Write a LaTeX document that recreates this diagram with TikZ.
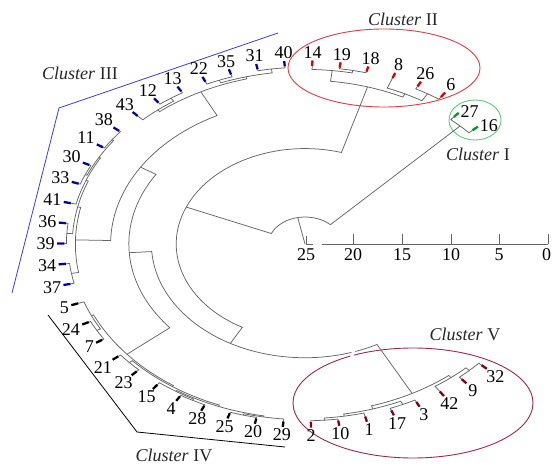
\documentclass[tikz,border=0pt]{standalone}
\usepackage{fontspec}
\setmainfont{Liberation Serif}
\definecolor{cI}{RGB}{0,150,40}
\definecolor{cII}{RGB}{220,0,0}
\definecolor{cIII}{RGB}{0,0,170}
\definecolor{cIV}{RGB}{0,0,0}
\definecolor{cV}{RGB}{130,0,20}
\definecolor{eI}{RGB}{100,200,130}
\definecolor{eII}{RGB}{225,60,70}
\definecolor{eV}{RGB}{160,40,70}
\definecolor{lIII}{RGB}{60,60,220}
\definecolor{dg}{RGB}{100,100,100}
\newcommand{\Ang}[1]{42.5+6.54*(#1)}
% internal node: radius, idx1, r1, idx2, r2
\newcommand{\Nd}[5]{\draw[den] ({\Ang{#2}}:#3) -- ({\Ang{#2}}:#1) arc[start angle={\Ang{#2}}, end angle={\Ang{#4}}, radius=#1] -- ({\Ang{#4}}:#5);}
% leaf: idx, label, colour, radius
\newcommand{\Lf}[4]{%
  \pgfmathsetmacro{\lfa}{42.5+6.54*(#1)}%
  \pgfmathsetmacro{\lfb}{mod(\lfa+180,360)}%
  \pgfmathsetmacro{\lfr}{#4+0.03}%
  \pgfmathsetmacro{\lft}{#4+0.036}%
  \draw[line width=2.3pt, draw=#3] (\lfa:#4) -- (\lfa:\lfr);
  \node[lab, anchor=\lfb] (n#2) at (\lfa:\lft) {#2};}
% leaf with given label anchor
\newcommand{\LfA}[5]{%
  \pgfmathsetmacro{\lfa}{42.5+6.54*(#1)}%
  \pgfmathsetmacro{\lfr}{#4+0.03}%
  \pgfmathsetmacro{\lft}{#4+0.036}%
  \draw[line width=2.3pt, draw=#3] (\lfa:#4) -- (\lfa:\lfr);
  \node[lab, anchor=#5] (n#2) at (\lfa:\lft) {#2};}
\begin{document}
\begin{tikzpicture}[x=1pt,y=-1pt,
  den/.style={draw=dg, line width=0.75pt},
  lab/.style={font=\fontsize{18}{18}\selectfont, inner sep=0.8pt, text=black},
  clab/.style={font=\fontsize{18}{18}\selectfont, text=black!85, inner sep=0pt},
  axisline/.style={draw=dg, line width=0.9pt}]
\useasboundingbox (0,0) rectangle (552,470);
% cluster outlines
\draw[eII, line width=0.9pt] (384,68) ellipse [x radius=96, y radius=39];
\draw[eI, line width=0.9pt] (475,120) ellipse [x radius=26, y radius=20];
\draw[eV, line width=0.9pt] (413,403) ellipse [x radius=120, y radius=55];
\draw[lIII, line width=0.8pt] (278,33) -- (59,108) -- (12,293);
\draw[black, line width=0.8pt] (48,315) -- (137,432) -- (285,447);
% cluster labels
\node[clab] (tI) at (478,154) {\textit{Cluster} I};
\node[clab] (tII) at (403,19) {\textit{Cluster} II};
\node[clab] (tIII) at (80,73) {\textit{Cluster} III};
\node[clab] (tIV) at (174,455) {\textit{Cluster} IV};
\node[clab] (tV) at (465,334) {\textit{Cluster} V};
% dendrogram
\begin{scope}[shift={(305,244)}, x=243pt, y=180pt]
\coordinate (ctr) at (0,0);
\draw[den] (ctr) -- ({\Ang{9.02}}:0.15);
\Nd{0.15}{0.5}{0.915}{17.543}{0.53}
\Nd{0.915}{0}{0.935}{1}{0.935}
\Nd{0.53}{4.75}{0.91}{30.336}{0.632}
\Nd{0.91}{3.25}{0.93}{6.25}{0.97}
\Nd{0.93}{2.5}{0.975}{4}{0.99}
\Nd{0.975}{2}{0.99}{3}{0.99}
\Nd{0.97}{5.5}{0.984}{7}{0.99}
\Nd{0.984}{5}{0.99}{6}{0.99}
\Nd{0.632}{21.609}{0.725}{39.0625}{0.94}
\Nd{0.725}{16.094}{0.80}{27.125}{0.955}
\Nd{0.80}{11.375}{0.948}{20.8125}{0.945}
\Nd{0.948}{9.5}{0.96}{13.25}{0.96}
\Nd{0.96}{8.5}{0.982}{10.5}{0.976}
\Nd{0.982}{8}{0.99}{9}{0.99}
\Nd{0.976}{10}{0.99}{11}{0.99}
\Nd{0.96}{12.5}{0.98}{14}{0.99}
\Nd{0.98}{12}{0.99}{13}{0.99}
\Nd{0.945}{19.125}{0.958}{22.5}{0.975}
\Nd{0.958}{17.75}{0.968}{20.5}{0.982}
\Nd{0.968}{16.5}{0.975}{19}{0.99}
\Nd{0.975}{15.5}{0.983}{17.5}{0.983}
\Nd{0.983}{15}{0.99}{16}{0.99}
\Nd{0.983}{17}{0.99}{18}{0.99}
\Nd{0.982}{20}{0.99}{21}{0.99}
\Nd{0.975}{22}{0.99}{23}{0.99}
\Nd{0.955}{24.75}{0.965}{29.5}{0.962}
\Nd{0.965}{24}{0.99}{25.5}{0.982}
\Nd{0.982}{25}{0.99}{26}{0.99}
\Nd{0.962}{27.5}{0.978}{31.5}{0.97}
\Nd{0.978}{27}{0.99}{28}{0.99}
\Nd{0.97}{29.75}{0.976}{33.25}{0.976}
\Nd{0.976}{29}{0.99}{30.5}{0.984}
\Nd{0.984}{30}{0.99}{31}{0.99}
\Nd{0.976}{32.5}{0.984}{34}{0.99}
\Nd{0.984}{32}{0.99}{33}{0.99}
\Nd{0.94}{37.375}{0.958}{40.75}{0.955}
\Nd{0.958}{36.25}{0.97}{38.5}{0.978}
\Nd{0.97}{35.5}{0.982}{37}{0.99}
\Nd{0.982}{35}{0.99}{36}{0.99}
\Nd{0.978}{38}{0.99}{39}{0.99}
\Nd{0.955}{40}{0.99}{41.5}{0.975}
\Nd{0.975}{41}{0.99}{42}{0.99}
% leaves
\LfA{0}{16}{cI}{0.935}{west}
\LfA{1}{27}{cI}{0.935}{west}
\Lf{2}{6}{cII}{0.99}
\Lf{3}{26}{cII}{0.99}
\Lf{4}{8}{cII}{0.99}
\Lf{5}{18}{cII}{0.99}
\Lf{6}{19}{cII}{0.99}
\Lf{7}{14}{cII}{0.99}
\Lf{8}{40}{cIII}{0.99}
\Lf{9}{31}{cIII}{0.99}
\Lf{10}{35}{cIII}{0.99}
\Lf{11}{22}{cIII}{0.99}
\Lf{12}{13}{cIII}{0.99}
\Lf{13}{12}{cIII}{0.99}
\Lf{14}{43}{cIII}{0.99}
\Lf{15}{38}{cIII}{0.99}
\Lf{16}{11}{cIII}{0.99}
\Lf{17}{30}{cIII}{0.99}
\Lf{18}{33}{cIII}{0.99}
\Lf{19}{41}{cIII}{0.99}
\Lf{20}{36}{cIII}{0.99}
\Lf{21}{39}{cIII}{0.99}
\Lf{22}{34}{cIII}{0.99}
\Lf{23}{37}{cIII}{0.99}
\Lf{24}{5}{cIV}{0.99}
\Lf{25}{24}{cIV}{0.99}
\Lf{26}{7}{cIV}{0.99}
\Lf{27}{21}{cIV}{0.99}
\Lf{28}{23}{cIV}{0.99}
\Lf{29}{15}{cIV}{0.99}
\Lf{30}{4}{cIV}{0.99}
\Lf{31}{28}{cIV}{0.99}
\Lf{32}{25}{cIV}{0.99}
\Lf{33}{20}{cIV}{0.99}
\Lf{34}{29}{cIV}{0.99}
\Lf{35}{2}{cV}{0.99}
\Lf{36}{10}{cV}{0.99}
\Lf{37}{1}{cV}{0.99}
\Lf{38}{17}{cV}{0.99}
\Lf{39}{3}{cV}{0.99}
\Lf{40}{42}{cV}{0.99}
\Lf{41}{9}{cV}{0.99}
\Lf{42}{32}{cV}{0.99}
\end{scope}
% white cut where the ellipse crosses the arc
\draw[white, line width=3pt] (350,362) -- (355,347);
% scale axis
\draw[axisline] (306,244) -- (313,244);
\draw[axisline] (322,244) -- (548,244);
\draw[axisline] (306,236) -- (306,244);
\foreach \xx/\nm in {353/a20, 402/a15, 451/a10, 499/a5, 548/a0} {
  \draw[axisline] (\xx,234) -- (\xx,244);
}
\node[lab] (s25) at (306,255) {25};
\node[lab] (s20) at (353,255) {20};
\node[lab] (s15) at (402,255) {15};
\node[lab] (s10) at (451,255) {10};
\node[lab] (s5) at (499,255) {5};
\node[lab, anchor=east] (s0) at (552,255) {0};
\end{tikzpicture}
\end{document}
